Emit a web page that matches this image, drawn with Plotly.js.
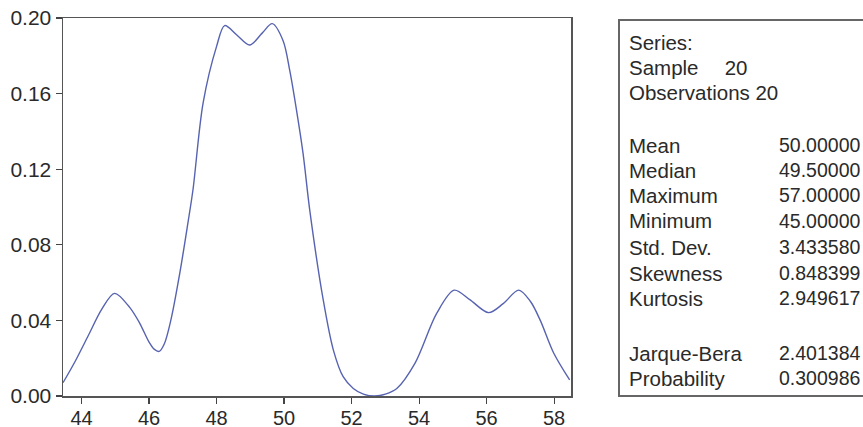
<!DOCTYPE html>
<html>
<head>
<meta charset="utf-8">
<script src="https://cdn.plot.ly/plotly-3.0.1.min.js"></script>
<style>html,body{margin:0;padding:0;background:#fff;}#chart{width:863px;height:427px;}</style>
</head>
<body>
<div id="chart"></div>
<script>
// Kernel density curve
const densityX = [43.45, 43.8, 44.2, 44.6, 44.98, 45.42, 45.72, 46.0, 46.15, 46.3, 46.45, 46.65, 46.91, 47.15, 47.30, 47.6, 48.0, 48.24, 48.6, 48.98, 49.35, 49.65, 49.97, 50.17, 50.37, 50.56, 50.77, 51.16, 51.46, 51.75, 52.05, 52.35, 52.69, 53.0, 53.34, 53.88, 54.52, 55.04, 55.5, 56.06, 56.5, 56.95, 57.3, 57.59, 57.99, 58.46];
const densityY = [0.007, 0.018, 0.032, 0.046, 0.0543, 0.047, 0.0386, 0.0285, 0.0248, 0.0236, 0.0275, 0.0405, 0.065, 0.0915, 0.109, 0.155, 0.185, 0.196, 0.191, 0.1857, 0.192, 0.197, 0.188, 0.172, 0.151, 0.1286, 0.097, 0.0508, 0.0243, 0.0102, 0.004, 0.001, 0.0, 0.001, 0.004, 0.0174, 0.0437, 0.056, 0.051, 0.0441, 0.049, 0.056, 0.050, 0.040, 0.0226, 0.0085];

const yTicks = [0.00, 0.04, 0.08, 0.12, 0.16, 0.20];
const xTicks = [44, 46, 48, 50, 52, 54, 56, 58];

const headerLines = ["Series:", "Sample\u2003 20", "Observations 20"];
const statLabels = ["Mean", "Median", "Maximum", "Minimum", "Std. Dev.", "Skewness", "Kurtosis", "Jarque-Bera", "Probability"];
const statValues = ["50.00000", "49.50000", "57.00000", "45.00000", "3.433580", "0.848399", "2.949617", "2.401384", "0.300986"];

// layout geometry (pixels)
const W = 863, H = 427;
const L = 63, R = 571, T = 18, B = 396;
const pw = R - L, ph = B - T;
const px = x => (x - L) / pw;
const py = y => (B - y) / ph;

const font = "Liberation Sans, Arial, sans-serif";
const textColor = "#2a2a2a";
const boxSize = 20.5, valueSize = 19.5, tickSize = 21, xTickSize = 20;

const annotations = [];
const headerY = [42, 67, 92];
headerLines.forEach((t, i) => {
  annotations.push({xref: "paper", yref: "paper", x: px(627), y: py(headerY[i]), xanchor: "left", yanchor: "middle",
    text: t, showarrow: false, font: {family: font, size: boxSize, color: textColor}});
});
const statY = [145, 170, 195, 221, 247, 273, 298, 353, 378];
statLabels.forEach((t, i) => {
  annotations.push({xref: "paper", yref: "paper", x: px(627), y: py(statY[i]), xanchor: "left", yanchor: "middle",
    text: t, showarrow: false, font: {family: font, size: boxSize, color: textColor}});
  annotations.push({xref: "paper", yref: "paper", x: px(777), y: py(statY[i]), xanchor: "left", yanchor: "middle",
    text: statValues[i], showarrow: false, font: {family: font, size: valueSize, color: textColor}});
});

const trace = {
  x: densityX, y: densityY, type: "scatter", mode: "lines",
  line: {color: "#5763b0", width: 1.4, shape: "spline", smoothing: 0.9},
  hoverinfo: "skip"
};

const layout = {
  width: W, height: H,
  margin: {l: L, r: W - R, t: T, b: H - B, pad: 0},
  paper_bgcolor: "#ffffff", plot_bgcolor: "#ffffff",
  showlegend: false,
  font: {family: font, size: tickSize, color: textColor},
  xaxis: {
    range: [43.45, 58.5], tickvals: xTicks, ticktext: xTicks.map(String),
    ticks: "outside", ticklen: 6, tickwidth: 1.2, tickcolor: "#444",
    ticklabelstandoff: -3,
    showline: true, linecolor: "#555", linewidth: 1.5, mirror: true,
    showgrid: false, zeroline: false, tickfont: {family: font, size: xTickSize, color: textColor}
  },
  yaxis: {
    range: [0, 0.2], tickvals: yTicks, ticktext: yTicks.map(v => v.toFixed(2)),
    ticks: "outside", ticklen: 6, tickwidth: 1.2, tickcolor: "#444",
    showline: true, linecolor: "#555", linewidth: 1.5, mirror: true,
    showgrid: false, zeroline: false, tickfont: {family: font, size: tickSize, color: textColor}
  },
  shapes: [{
    type: "rect", xref: "paper", yref: "paper",
    x0: px(619), x1: px(880), y0: py(396), y1: py(20),
    line: {color: "#666", width: 2}, fillcolor: "rgba(0,0,0,0)"
  }],
  annotations: annotations
};

Plotly.newPlot("chart", [trace], layout, {staticPlot: true, displayModeBar: false});
</script>
</body>
</html>
